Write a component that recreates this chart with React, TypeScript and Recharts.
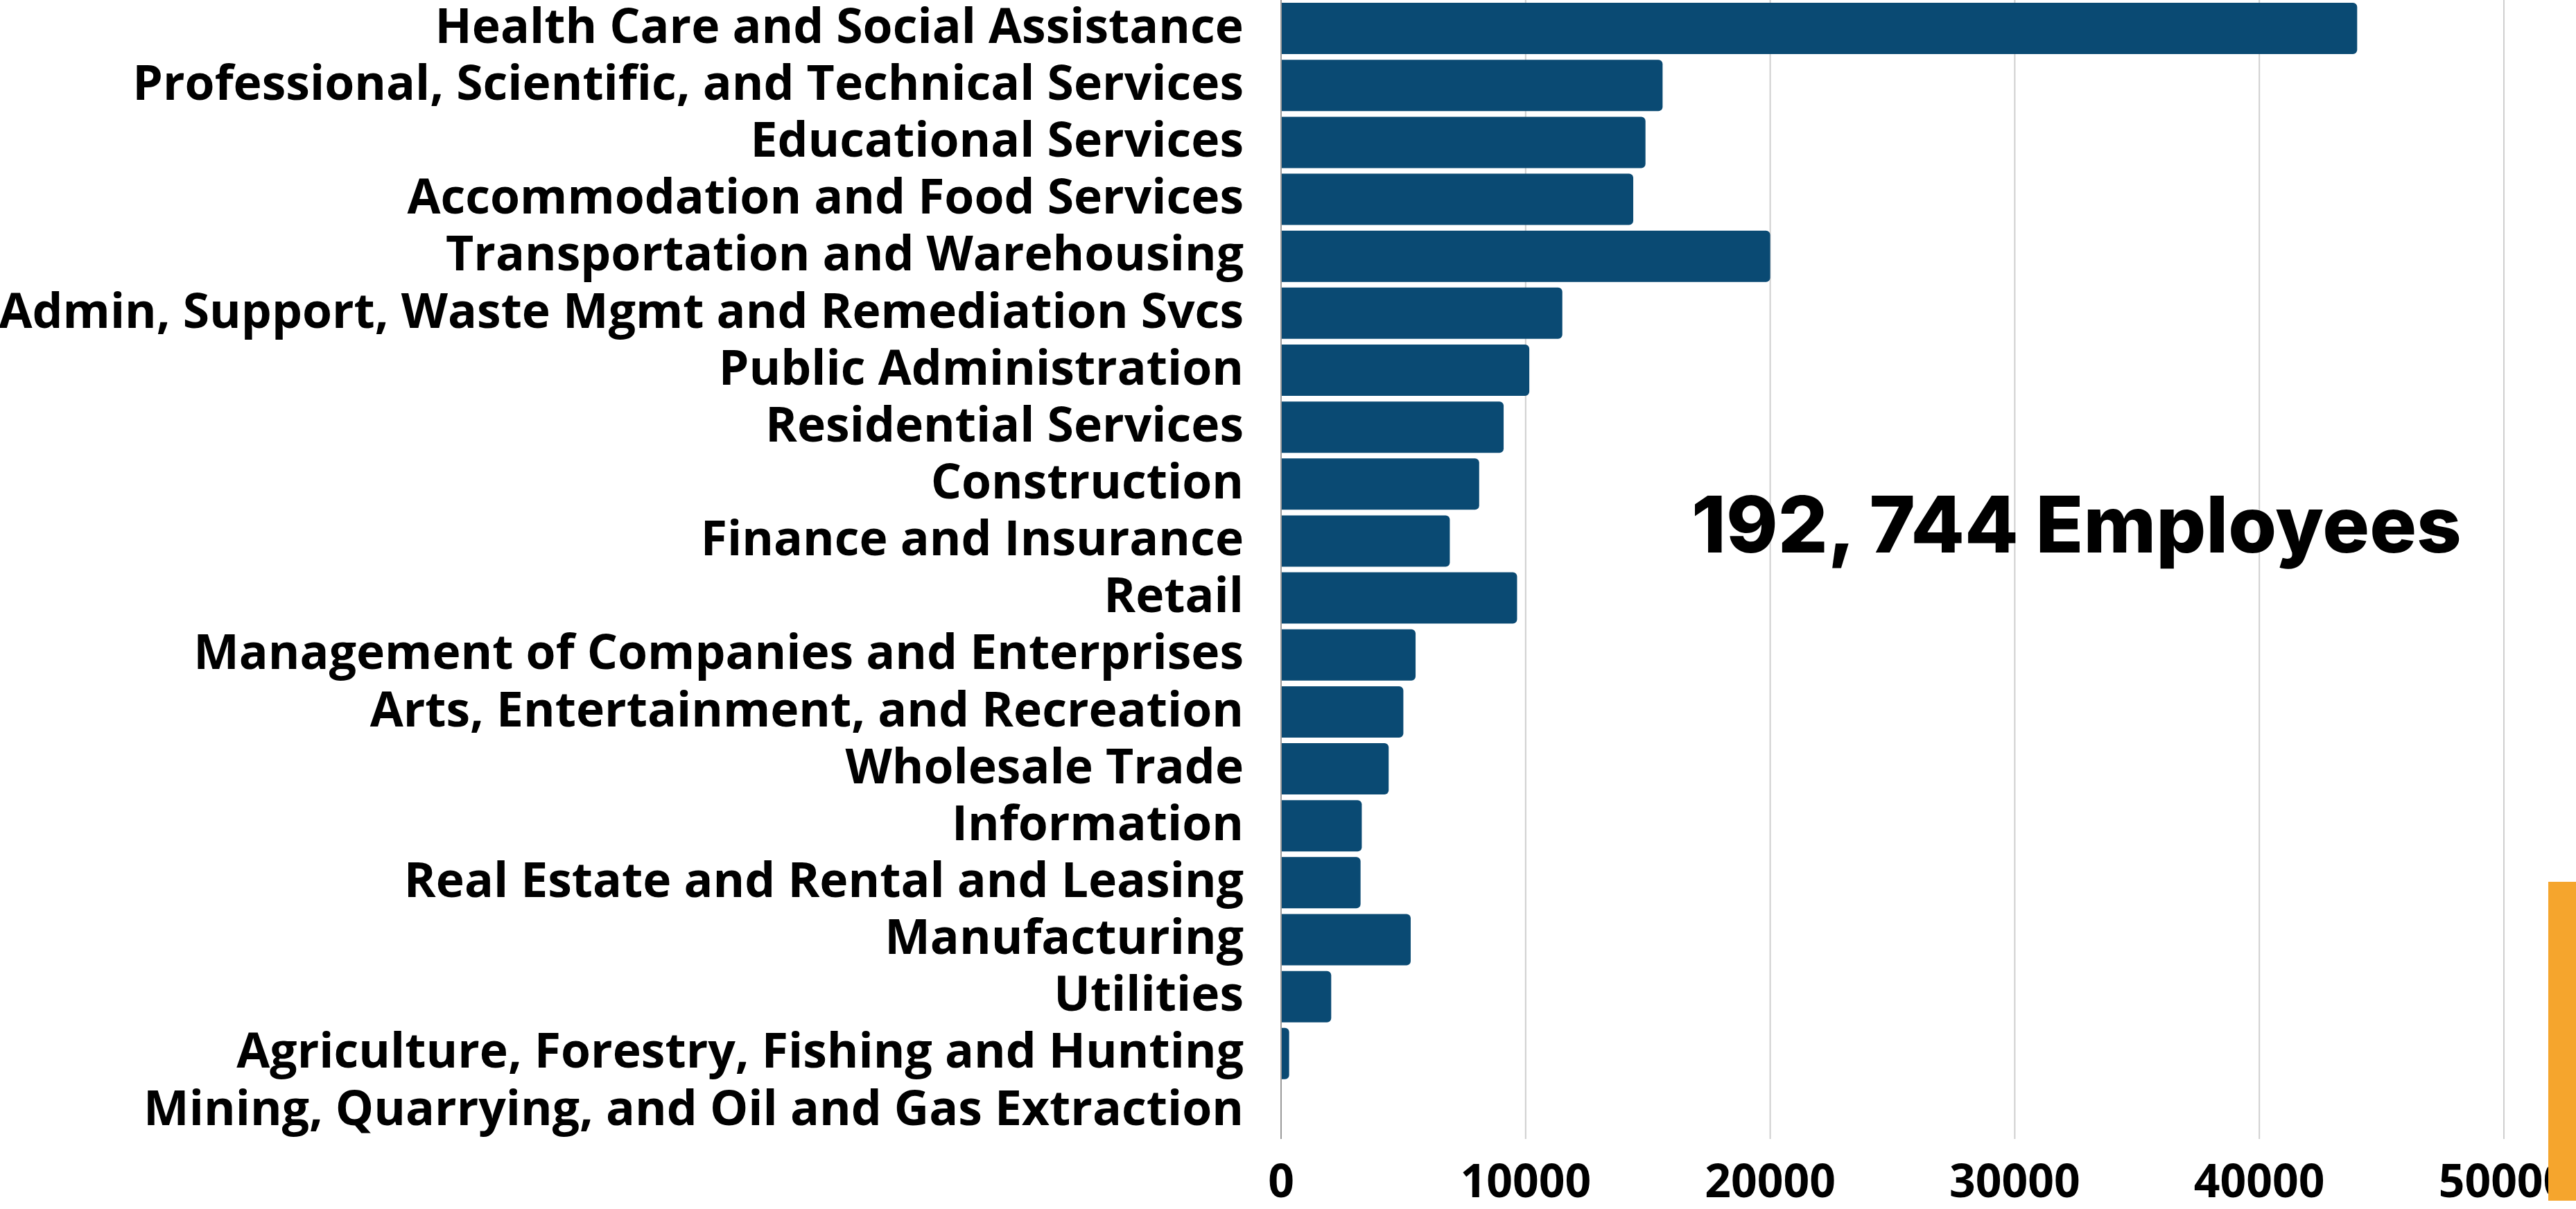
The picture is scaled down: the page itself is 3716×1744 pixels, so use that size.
import React from "react"
import { BarChart, Bar, XAxis, YAxis, CartesianGrid } from "recharts"

const industries = [
  "Health Care and Social Assistance",
  "Professional, Scientific, and Technical Services",
  "Educational Services",
  "Accommodation and Food Services",
  "Transportation and Warehousing",
  "Admin, Support, Waste Mgmt and Remediation Svcs",
  "Public Administration",
  "Residential Services",
  "Construction",
  "Finance and Insurance",
  "Retail",
  "Management of Companies and Enterprises",
  "Arts, Entertainment, and Recreation",
  "Wholesale Trade",
  "Information",
  "Real Estate and Rental and Leasing",
  "Manufacturing",
  "Utilities",
  "Agriculture, Forestry, Fishing and Hunting",
  "Mining, Quarrying, and Oil and Gas Extraction",
]

const employees = [
  44000, 15600, 14900, 14400, 20000, 11500, 10150, 9100, 8100, 6900, 9650, 5500, 5000, 4400, 3300,
  3250, 5300, 2050, 330, 0,
]

const xTicks = [0, 10000, 20000, 30000, 40000, 50000]

const totalLabel = "192, 744 Employees"

const data = industries.map((name, i) => ({ name, employees: employees[i] }))

const labelFont = "'Open Sans', sans-serif"

const App = () => {
  return (
    <div style={{ position: "relative", width: 3716, height: 1744, background: "#fff" }}>
      <style>{`body { margin: 0; }`}</style>
      <BarChart
        width={3716}
        height={1744}
        data={data}
        layout="vertical"
        margin={{ top: 0, right: 104, bottom: 0, left: 0 }}
        barCategoryGap="5%"
      >
        <CartesianGrid horizontal={false} stroke="#cfcfcf" strokeWidth={2} />
        <XAxis
          type="number"
          domain={[0, 50000]}
          ticks={xTicks}
          axisLine={false}
          tickLine={false}
          tickSize={0}
          tickMargin={37}
          height={101}
          tick={{ fill: "#000", fontSize: 66, fontWeight: 700, fontFamily: labelFont }}
        />
        <YAxis
          type="category"
          dataKey="name"
          width={1848}
          interval={0}
          axisLine={{ stroke: "#9a9a9a", strokeWidth: 2 }}
          tickLine={false}
          tickSize={0}
          tickMargin={54}
          tick={{ fill: "#000", fontSize: 69.6, fontWeight: 700, fontFamily: labelFont, dy: -4 }}
        />
        <Bar dataKey="employees" fill="#0a4a73" radius={[0, 6, 6, 0]} isAnimationActive={false} />
      </BarChart>
      <div
        style={{
          position: "absolute",
          left: 2440,
          top: 700,
          fontFamily: "Inter, sans-serif",
          fontWeight: 800,
          fontSize: 113,
          color: "#000",
          whiteSpace: "nowrap",
          lineHeight: 1,
        }}
      >
        {totalLabel}
      </div>
      <div
        style={{
          position: "absolute",
          left: 3676,
          top: 1272,
          width: 40,
          height: 460,
          background: "#f5a52d",
        }}
      />
    </div>
  )
}

export default App
